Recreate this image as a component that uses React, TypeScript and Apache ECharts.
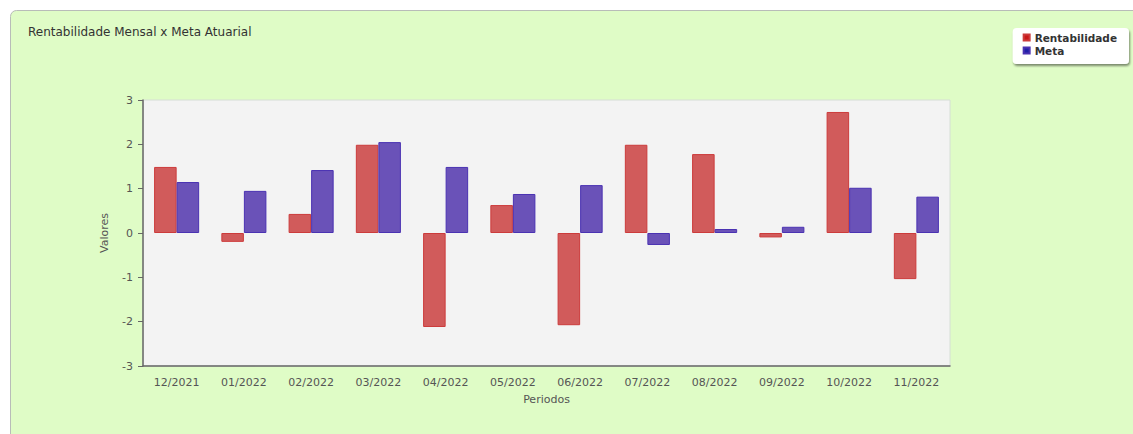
import React, { useEffect, useRef } from "react";
import * as echarts from "echarts";

const categories = ["12/2021", "01/2022", "02/2022", "03/2022", "04/2022", "05/2022", "06/2022", "07/2022", "08/2022", "09/2022", "10/2022", "11/2022"];
const rentabilidade = [1.49, -0.2, 0.43, 1.99, -2.12, 0.63, -2.08, 1.99, 1.78, -0.1, 2.73, -1.04];
const meta = [1.15, 0.95, 1.42, 2.05, 1.49, 0.88, 1.08, -0.27, 0.09, 0.14, 1.02, 0.82];

const FONT = "DejaVu Sans";

export default function App() {
  const ref = useRef<HTMLDivElement>(null);
  useEffect(() => {
    document.body.style.margin = "0";
    const chart = echarts.init(ref.current!, null, { renderer: "svg" });
    chart.setOption({
      animation: false,
      backgroundColor: "#ffffff",
      graphic: [
        {
          type: "rect",
          z: -10,
          silent: true,
          shape: { x: 10.5, y: 10.5, width: 1130, height: 430, r: [6, 0, 0, 0] },
          style: { fill: "#dffcc6", stroke: "#b8bcb8", lineWidth: 1 },
        },
      ],
      title: {
        text: "Rentabilidade Mensal x Meta Atuarial",
        left: 23,
        top: 21,
        textStyle: { fontFamily: FONT, fontSize: 12, fontWeight: "normal", color: "#333" },
      },
      legend: {
        orient: "vertical",
        right: 4,
        top: 28,
        itemWidth: 6,
        itemHeight: 6,
        itemGap: 2,
        icon: "rect",
        padding: [4, 12, 8, 10],
        backgroundColor: "#ffffff",
        borderRadius: 4,
        shadowColor: "rgba(0,0,0,0.45)",
        shadowBlur: 2,
        shadowOffsetX: 1,
        shadowOffsetY: 2,
        textStyle: { fontFamily: FONT, fontSize: 10.5, color: "#333", fontWeight: "bold" },
        data: [
          { name: "Rentabilidade", itemStyle: { color: "#c81818" } },
          { name: "Meta", itemStyle: { color: "#2020a8" } },
        ],
      },
      grid: {
        left: 143,
        right: 183,
        top: 100,
        bottom: 68,
        show: true,
        backgroundColor: "#f3f3f3",
        borderColor: "#d6ded6",
        borderWidth: 1,
      },
      xAxis: {
        type: "category",
        data: categories,
        name: "Periodos",
        nameLocation: "middle",
        nameGap: 28,
        nameTextStyle: { fontFamily: FONT, fontSize: 11, color: "#555" },
        axisLine: { onZero: false, lineStyle: { color: "#666", width: 1.5 } },
        axisTick: { alignWithLabel: true, length: 4, lineStyle: { color: "#666" } },
        axisLabel: { fontFamily: FONT, fontSize: 11, color: "#555", margin: 11 },
      },
      yAxis: {
        type: "value",
        min: -3,
        max: 3,
        interval: 1,
        name: "Valores",
        nameLocation: "middle",
        nameGap: 33,
        nameTextStyle: { fontFamily: FONT, fontSize: 11, color: "#555" },
        axisLine: { show: true, lineStyle: { color: "#666", width: 1.5 } },
        axisTick: { show: true, length: 5, lineStyle: { color: "#666" } },
        axisLabel: { fontFamily: FONT, fontSize: 11, color: "#555", margin: 10 },
        splitLine: { show: false },
      },
      series: [
        {
          name: "Rentabilidade",
          type: "bar",
          data: rentabilidade,
          barGap: "0%",
          barCategoryGap: "33%",
          itemStyle: { color: "#d15b5b", borderColor: "#cc3b3b", borderWidth: 1 },
        },
        {
          name: "Meta",
          type: "bar",
          data: meta,
          itemStyle: { color: "#6a52b8", borderColor: "#4a32b2", borderWidth: 1 },
        },
      ],
    });
    return () => chart.dispose();
  }, []);
  return <div ref={ref} style={{ width: 1133, height: 434 }} />;
}
